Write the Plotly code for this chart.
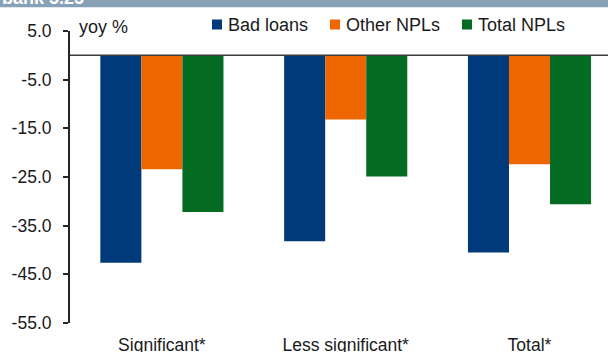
import plotly.graph_objects as go

# Year-on-year change in non-performing loans by bank group
categories = ["Significant*", "Less significant*", "Total*"]
series_names = ["Bad loans", "Other NPLs", "Total NPLs"]
bad_loans = [-42.6, -38.2, -40.5]
other_npls = [-23.4, -13.2, -22.4]
total_npls = [-32.2, -24.9, -30.6]
series_values = [bad_loans, other_npls, total_npls]
series_colors = ["#003a7a", "#ed6600", "#046b23"]

y_tick_values = [5, -5, -15, -25, -35, -45, -55]
y_tick_labels = ["5.0", "-5.0", "-15.0", "-25.0", "-35.0", "-45.0", "-55.0"]

W, H = 608, 352
L, R, T, B = 70, 0, 31, 29
PW, PH = W - L - R, H - T - B
GROUP_SPACING = 183.8  # px per category slot

FONT = "Liberation Sans, Arial, sans-serif"
TEXT = "#1a1a1a"
AXIS = "#262626"


def px_x(p):
    return (p - L) / PW


def px_y(p):
    return 1 + (T - p) / PH


fig = go.Figure()
for name, vals, col in zip(series_names, series_values, series_colors):
    fig.add_bar(x=categories, y=vals, name=name, marker_color=col,
                marker_line_width=0, showlegend=False)

shapes = [
    # zero line drawn over the bars
    dict(type="line", xref="paper", x0=0, x1=1, yref="y", y0=0, y1=0,
         line=dict(color="#3c3c3c", width=1.5), layer="above"),
    # header strip
    dict(type="rect", xref="paper", x0=px_x(0), x1=px_x(W), yref="paper",
         y0=px_y(7.3), y1=px_y(-2), fillcolor="#87a1b6", line_width=0,
         layer="above"),
]

annotations = [
    dict(text="yoy %", xref="paper", yref="paper", x=px_x(77), y=px_y(27),
         xanchor="left", yanchor="middle", showarrow=False,
         font=dict(family=FONT, size=18, color=TEXT)),
    dict(text="<b>bank 5.25</b>", xref="paper", yref="paper", x=px_x(0),
         y=px_y(10), xanchor="left", yanchor="bottom", showarrow=False,
         font=dict(family=FONT, size=18, color="white")),
]

# legend row: coloured square followed by the series name
legend_x = [212, 330, 462]
for name, col, lx in zip(series_names, series_colors, legend_x):
    shapes.append(dict(type="rect", xref="paper", yref="paper",
                       x0=px_x(lx), x1=px_x(lx + 10),
                       y0=px_y(29.5), y1=px_y(19.5),
                       fillcolor=col, line_width=0))
    annotations.append(dict(text=name, xref="paper", yref="paper",
                            x=px_x(lx + 14), y=px_y(24.8), xanchor="left",
                            yanchor="middle", showarrow=False,
                            font=dict(family=FONT, size=18, color=TEXT)))

fig.update_layout(
    width=W, height=H,
    margin=dict(l=L, r=R, t=T, b=B, pad=0, autoexpand=False),
    paper_bgcolor="white", plot_bgcolor="white",
    barmode="group", bargap=0.33, bargroupgap=0,
    font=dict(family=FONT, size=17.5, color=TEXT),
    shapes=shapes, annotations=annotations,
    xaxis=dict(range=[-0.5, -0.5 + PW / GROUP_SPACING], showline=False,
               showgrid=False, zeroline=False, ticks="", automargin=False,
               ticklabelstandoff=9,
               tickfont=dict(family=FONT, size=17.5, color=TEXT)),
    yaxis=dict(range=[-55, 5], tickvals=y_tick_values, ticktext=y_tick_labels,
               showline=True, linecolor=AXIS, linewidth=2, ticks="outside",
               ticklen=5, tickwidth=1.5, tickcolor=AXIS, showgrid=False,
               zeroline=False, ticklabelstandoff=8, automargin=False,
               tickfont=dict(family=FONT, size=17.5, color=TEXT)),
)

fig.write_html("out.html")
